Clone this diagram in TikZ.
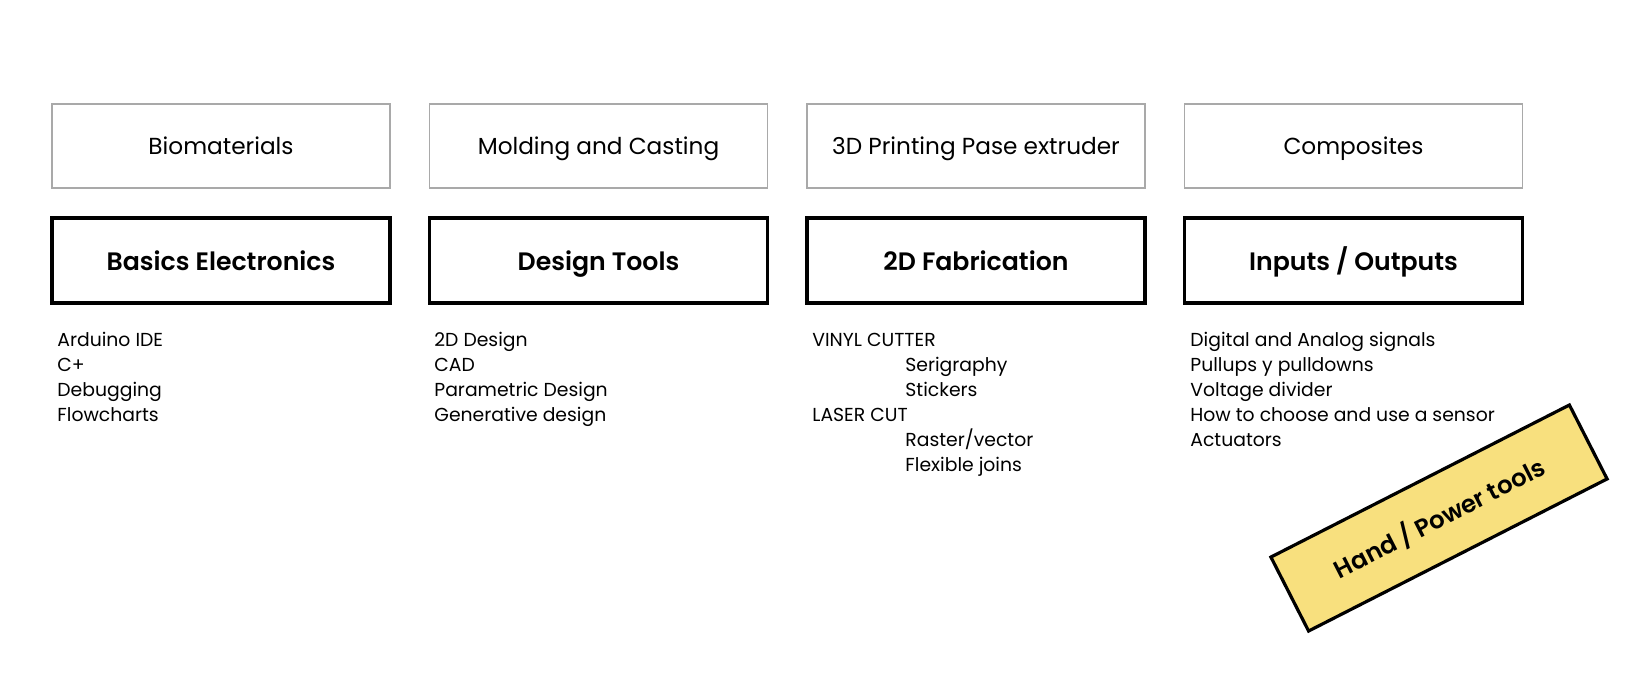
\documentclass[tikz,border=0pt]{standalone}
\usepackage{fontspec}
\setmainfont{Poppins}[BoldFont={Poppins SemiBold}]
\usepackage{tikz}
\usetikzlibrary{positioning}
\definecolor{boxgray}{HTML}{A9A9A9}
\definecolor{tagyellow}{HTML}{F8E07E}
\tikzset{
  topbox/.style={draw=boxgray, line width=0.85pt, minimum width=169pt, minimum height=42pt, inner sep=0pt, text height=8.6pt, text depth=0pt, font=\fontsize{11.6}{13}\selectfont},
  mainbox/.style={draw=black, line width=1.6pt, minimum width=169pt, minimum height=42.5pt, inner sep=0pt, text height=9.5pt, text depth=0pt, font=\fontsize{12.6}{14}\selectfont\bfseries},
  item/.style={anchor=base west, inner sep=0pt, font=\fontsize{9.4}{12}\selectfont},
  tag/.style={draw=black, fill=tagyellow, line width=1.6pt, minimum width=167.5pt, minimum height=41.5pt, inner sep=0pt, text height=9.5pt, text depth=0pt, rotate=27, font=\fontsize{12.2}{14}\selectfont\bfseries}}

\begin{document}
\begin{tikzpicture}[x=0.5pt, y=-0.5pt]
  \useasboundingbox (0,0) rectangle (1640,676);
  % top row
  \node[topbox] (bio) at (221,146) {Biomaterials};
  \node[topbox] (mold) at (598.5,146) {Molding and Casting};
  \node[topbox] (print) at (976,146) {3D Printing Pase extruder};
  \node[topbox] (comp) at (1353.5,146) {Composites};
  % main row
  \node[mainbox] (elec) at (221,260.5) {Basics Electronics};
  \node[mainbox] (design) at (598.5,260.5) {Design Tools};
  \node[mainbox] (fab) at (976,260.5) {2D Fabrication};
  \node[mainbox] (io) at (1353.5,260.5) {Inputs / Outputs};
  % lists
  \node[item] (e1) at (57,346.7) {Arduino IDE};
  \node[item] (e2) at (57,371.7) {C+};
  \node[item] (e3) at (57,396.7) {Debugging};
  \node[item] (e4) at (57,421.7) {Flowcharts};
  \node[item] (d1) at (434,346.7) {2D Design};
  \node[item] (d2) at (434,371.7) {CAD};
  \node[item] (d3) at (434,396.7) {Parametric Design};
  \node[item] (d4) at (434,421.7) {Generative design};
  \node[item] (f1) at (812,346.7) {VINYL CUTTER};
  \node[item] (f2) at (905,371.7) {Serigraphy};
  \node[item] (f3) at (905,396.7) {Stickers};
  \node[item] (f4) at (812,421.7) {LASER CUT};
  \node[item] (f5) at (905,446.7) {Raster/vector};
  \node[item] (f6) at (905,471.7) {Flexible joins};
  \node[item] (i1) at (1190,346.7) {Digital and Analog signals};
  \node[item] (i2) at (1190,371.7) {Pullups y pulldowns};
  \node[item] (i3) at (1190,396.7) {Voltage divider};
  \node[item] (i4) at (1190,421.7) {How to choose and use a sensor};
  \node[item] (i5) at (1190,446.7) {Actuators};
  % sticker
  \node[tag] (tools) at (1439,518) {Hand / Power tools};
\end{tikzpicture}
\end{document}
